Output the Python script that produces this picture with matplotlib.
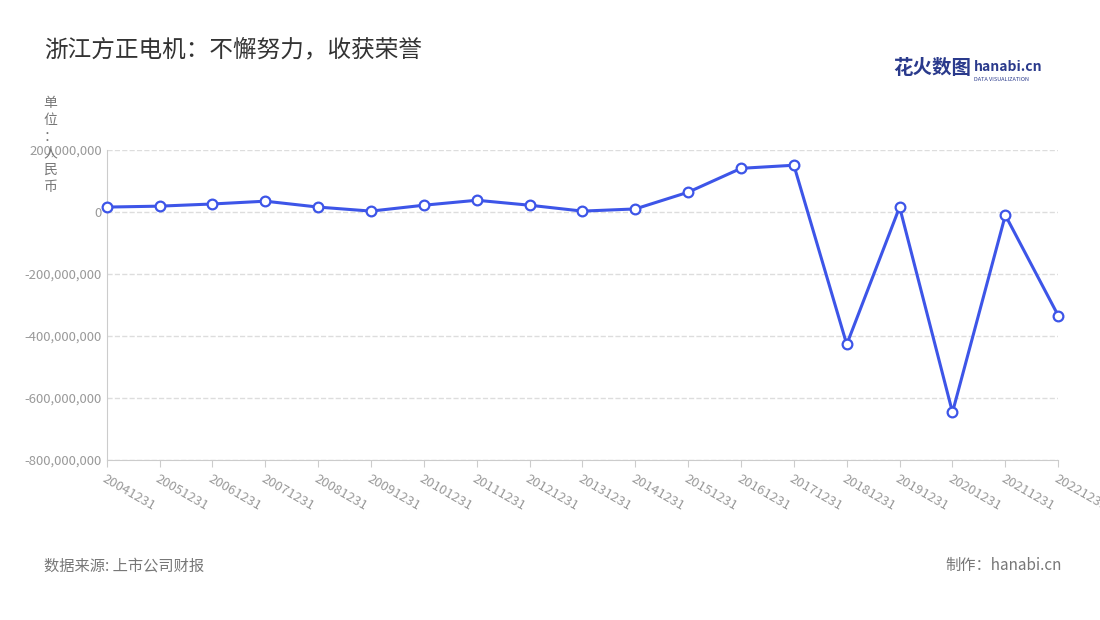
import matplotlib.pyplot as plt
from matplotlib.ticker import FuncFormatter

plt.rcParams['font.family'] = ['Noto Sans CJK SC', 'DejaVu Sans']

years = ["20041231", "20051231", "20061231", "20071231", "20081231", "20091231",
         "20101231", "20111231", "20121231", "20131231", "20141231", "20151231",
         "20161231", "20171231", "20181231", "20191231", "20201231", "20211231",
         "20221231"]
profit = [16e6, 19e6, 26e6, 35e6, 16e6, 3e6, 22e6, 38e6, 22e6, 3e6, 10e6, 64e6,
          141e6, 151e6, -427e6, 16e6, -646e6, -10e6, -334e6]

fig = plt.figure(figsize=(11, 6.2), dpi=100)
ax = fig.add_axes([0.097, 0.258, 0.865, 0.5])

x = list(range(len(years)))
ax.plot(x, profit, color='#3d55e8', linewidth=2.2, marker='o', markersize=7,
        markerfacecolor='white', markeredgecolor='#3d55e8', markeredgewidth=1.6,
        zorder=3, clip_on=False)

ax.set_xlim(0, len(years) - 1)
ax.set_ylim(-800e6, 200e6)
ax.set_yticks([-800e6, -600e6, -400e6, -200e6, 0, 200e6])
ax.yaxis.set_major_formatter(FuncFormatter(lambda v, p: f"{v:,.0f}"))
ax.set_xticks(x)
ax.set_xticklabels(years, rotation=-30, ha='left', rotation_mode='anchor')
ax.tick_params(axis='both', colors='#999999', labelsize=9.5, length=0)
ax.tick_params(axis='x', length=5, color='#cccccc', pad=4)
ax.grid(axis='y', linestyle='--', color='#dddddd', linewidth=1)
for s in ['top', 'right']:
    ax.spines[s].set_visible(False)
ax.spines['left'].set_color('#cccccc')
ax.spines['bottom'].set_color('#cccccc')

fig.text(0.04, 0.91, "浙江方正电机：不懈努力，收获荣誉", fontsize=17, color='#333333')
fig.text(0.046, 0.845, "单\n位\n：\n人\n民\n币", fontsize=10, color='#777777',
         va='top', ha='center', linespacing=1.25)
fig.text(0.812, 0.88, "花火数图", fontsize=14, color='#2a3a8c', fontweight='bold')
fig.text(0.885, 0.885, "hanabi.cn", fontsize=10, color='#2a3a8c', fontweight='bold')
fig.text(0.885, 0.87, "DATA VISUALIZATION", fontsize=4, color='#2a3a8c')
fig.text(0.04, 0.08, "数据来源: 上市公司财报", fontsize=11, color='#777777')
fig.text(0.965, 0.08, "制作：hanabi.cn", fontsize=11, color='#777777', ha='right')

fig.savefig("out.png", dpi=100)
